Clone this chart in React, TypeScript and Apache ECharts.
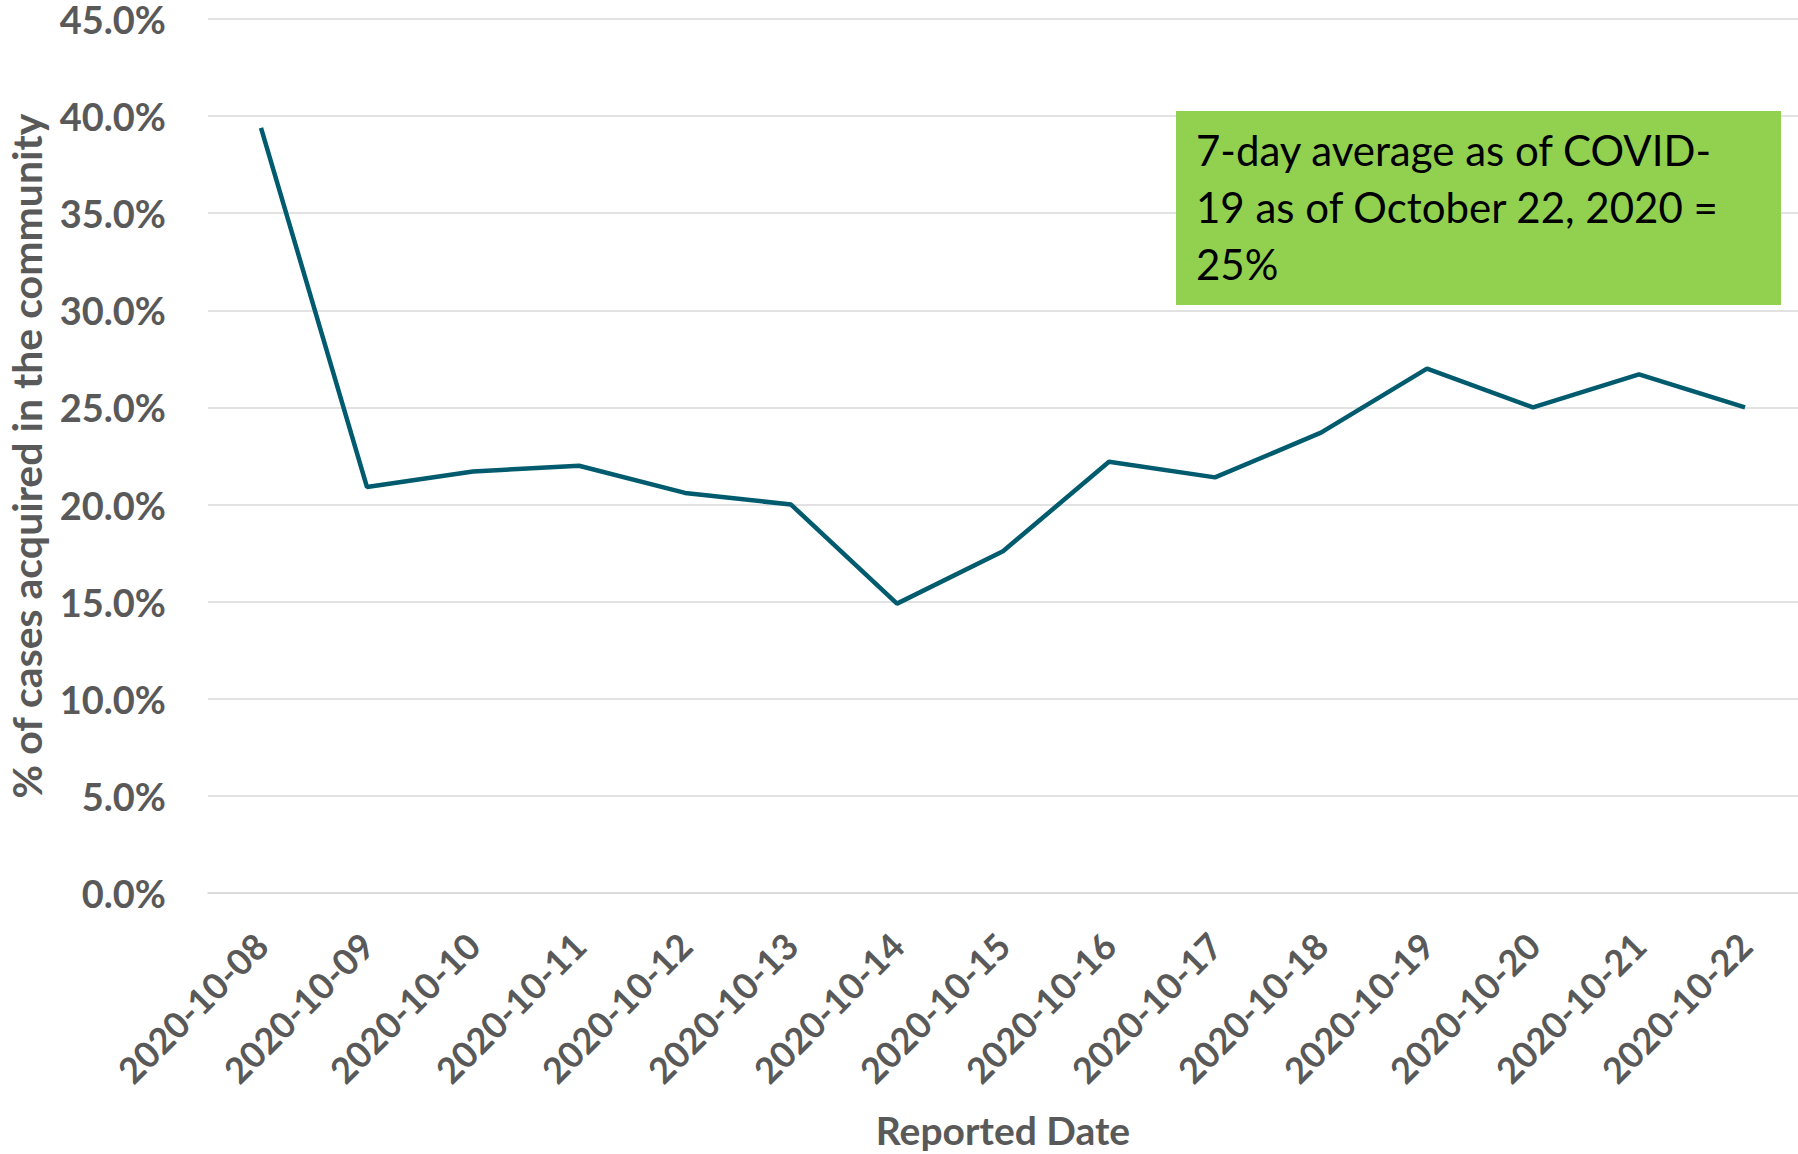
import React, { useEffect, useRef } from "react";
import * as echarts from "echarts";

const dates = [
  "2020-10-08", "2020-10-09", "2020-10-10", "2020-10-11", "2020-10-12",
  "2020-10-13", "2020-10-14", "2020-10-15", "2020-10-16", "2020-10-17",
  "2020-10-18", "2020-10-19", "2020-10-20", "2020-10-21", "2020-10-22",
];
const communityPct = [
  39.4, 20.9, 21.7, 22.0, 20.6, 20.0, 14.9, 17.6, 22.2, 21.4, 23.7, 27.0, 25.0, 26.7, 25.0,
];
const yMin = 0;
const yMax = 45;
const yStep = 5;
const yAxisTitle = "% of cases acquired in the community";
const xAxisTitle = "Reported Date";
const noteLines = [
  "7-day average as of COVID-",
  "19 as of October 22, 2020 =",
  "25%",
];

const FONT = "Lato, 'Open Sans', sans-serif";
const GRAY = "#595959";

export default function App() {
  const ref = useRef<HTMLDivElement>(null);
  useEffect(() => {
    if (!ref.current) return;
    const chart = echarts.init(ref.current, undefined, { renderer: "svg" });
    chart.setOption({
      animation: false,
      backgroundColor: "#ffffff",
      grid: {
        left: 208,
        right: 0,
        top: 19,
        bottom: 261,
        containLabel: false,
        outerBoundsMode: "none",
      },
      xAxis: {
        type: "category",
        data: dates,
        boundaryGap: true,
        name: xAxisTitle,
        nameLocation: "middle",
        nameGap: 217,
        nameTextStyle: { color: GRAY, fontFamily: FONT, fontWeight: "bold", fontSize: 39 },
        axisLine: { show: true, lineStyle: { color: "#D9D9D9", width: 1.5 } },
        axisTick: { show: false },
        axisLabel: {
          rotate: 45,
          margin: 46,
          interval: 0,
          color: GRAY,
          fontFamily: FONT,
          fontWeight: "bold",
          fontSize: 36,
        },
      },
      yAxis: {
        type: "value",
        min: yMin,
        max: yMax,
        interval: yStep,
        name: yAxisTitle,
        nameLocation: "middle",
        nameRotate: 90,
        nameGap: 161,
        nameTextStyle: { color: GRAY, fontFamily: FONT, fontWeight: "bold", fontSize: 41 },
        axisLine: { show: false },
        axisTick: { show: false },
        splitLine: { show: true, lineStyle: { color: "#D9D9D9", width: 1.5 } },
        axisLabel: {
          margin: 42,
          color: GRAY,
          fontFamily: FONT,
          fontWeight: "bold",
          fontSize: 38,
          lineHeight: 32,
          formatter: (v: number) => v.toFixed(1) + "%",
        },
      },
      series: [
        {
          type: "line",
          data: communityPct,
          showSymbol: false,
          symbol: "none",
          lineStyle: { color: "#005B6E", width: 4.5 },
        },
      ],
      graphic: [
        {
          type: "rect",
          shape: { x: 1176, y: 111, width: 605, height: 194 },
          style: { fill: "#92D050" },
          z: 10,
        },
        {
          type: "text",
          x: 1196,
          y: 121,
          z: 11,
          style: {
            text: noteLines.join("\n"),
            fill: "#000000",
            font: `42px ${FONT}`,
            lineHeight: 57,
            textVerticalAlign: "top",
            textAlign: "left",
          },
        },
      ],
    });
    return () => chart.dispose();
  }, []);
  return (
    <div
      ref={ref}
      style={{ position: "fixed", left: 0, top: 0, width: 1798, height: 1154 }}
    />
  );
}
